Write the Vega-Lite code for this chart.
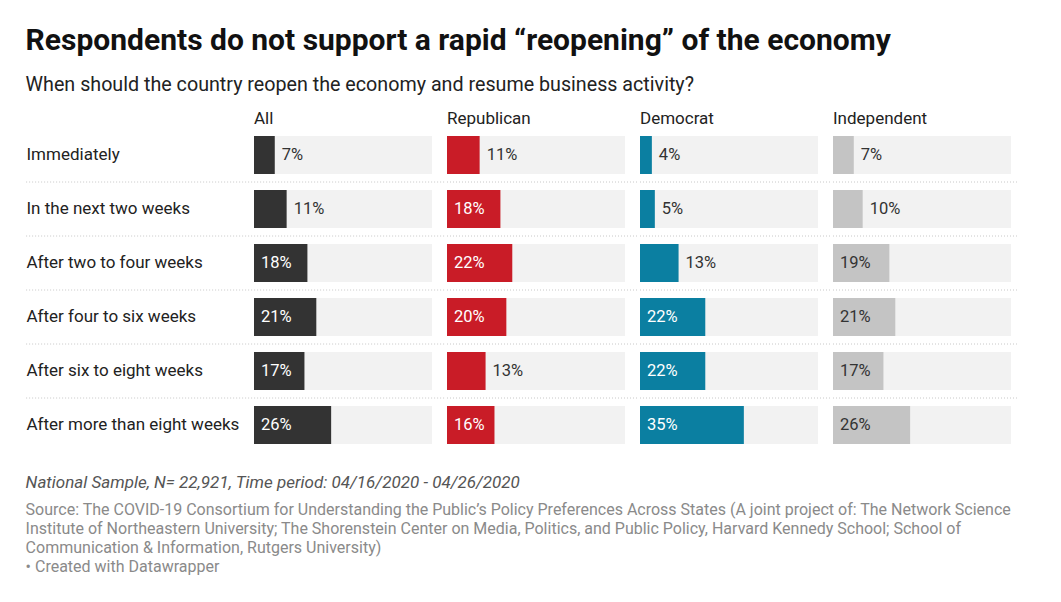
{
  "$schema": "https://vega.github.io/schema/vega-lite/v6.json",
  "background": "white",
  "padding": {"left": 25, "top": 26, "right": 0, "bottom": 0},
  "autosize": {"type": "pad"},
  "config": {"font": "Roboto", "view": {"stroke": null}},
  "datasets": {
    "d": [
      {"answer": "Immediately", "party": "All", "value": 0.07},
      {"answer": "In the next two weeks", "party": "All", "value": 0.11},
      {"answer": "After two to four weeks", "party": "All", "value": 0.18},
      {"answer": "After four to six weeks", "party": "All", "value": 0.21},
      {"answer": "After six to eight weeks", "party": "All", "value": 0.17},
      {"answer": "After more than eight weeks", "party": "All", "value": 0.26},
      {"answer": "Immediately", "party": "Republican", "value": 0.11},
      {"answer": "In the next two weeks", "party": "Republican", "value": 0.18},
      {"answer": "After two to four weeks", "party": "Republican", "value": 0.22},
      {"answer": "After four to six weeks", "party": "Republican", "value": 0.20},
      {"answer": "After six to eight weeks", "party": "Republican", "value": 0.13},
      {"answer": "After more than eight weeks", "party": "Republican", "value": 0.16},
      {"answer": "Immediately", "party": "Democrat", "value": 0.04},
      {"answer": "In the next two weeks", "party": "Democrat", "value": 0.05},
      {"answer": "After two to four weeks", "party": "Democrat", "value": 0.13},
      {"answer": "After four to six weeks", "party": "Democrat", "value": 0.22},
      {"answer": "After six to eight weeks", "party": "Democrat", "value": 0.22},
      {"answer": "After more than eight weeks", "party": "Democrat", "value": 0.35},
      {"answer": "Immediately", "party": "Independent", "value": 0.07},
      {"answer": "In the next two weeks", "party": "Independent", "value": 0.10},
      {"answer": "After two to four weeks", "party": "Independent", "value": 0.19},
      {"answer": "After four to six weeks", "party": "Independent", "value": 0.21},
      {"answer": "After six to eight weeks", "party": "Independent", "value": 0.17},
      {"answer": "After more than eight weeks", "party": "Independent", "value": 0.26}
    ]
  },
  "title": {
    "text": "National Sample, N= 22,921, Time period: 04/16/2020 - 04/26/2020",
    "subtitle": [
      "Source: The COVID-19 Consortium for Understanding the Public’s Policy Preferences Across States (A joint project of: The Network Science",
      "Institute of Northeastern University; The Shorenstein Center on Media, Politics, and Public Policy, Harvard Kennedy School; School of",
      "Communication & Information, Rutgers University)",
      "• Created with Datawrapper"
    ],
    "orient": "bottom",
    "anchor": "start",
    "frame": "bounds",
    "offset": 23,
    "font": "Roboto",
    "fontSize": 17,
    "fontStyle": "italic",
    "fontWeight": "normal",
    "color": "#555555",
    "subtitleFont": "Roboto",
    "subtitleFontSize": 16,
    "subtitleColor": "#8a8a8a",
    "subtitleLineHeight": 19,
    "subtitlePadding": 10
  },
  "vconcat": [
    {
      "title": {
        "text": "Respondents do not support a rapid “reopening” of the economy",
        "subtitle": "When should the country reopen the economy and resume business activity?",
        "anchor": "start",
        "frame": "bounds",
        "offset": 15,
        "font": "Roboto",
        "fontSize": 30,
        "fontWeight": "bold",
        "color": "#111111",
        "subtitleFont": "Roboto",
        "subtitleFontSize": 19.7,
        "subtitleColor": "#222222",
        "subtitlePadding": 19
      },
      "spacing": 0,
      "hconcat": [
        {
          "width": 190.7,
          "height": 324,
          "data": {"name": "d"},
          "transform": [{"filter": "datum.party === 'All'"}],
          "title": {"text": "All", "anchor": "start", "frame": "group", "fontSize": 17, "fontWeight": "normal", "color": "#222222", "offset": 0},
          "encoding": {
            "y": {
              "field": "answer", "type": "nominal",
              "scale": {"domain": ["Immediately", "In the next two weeks", "After two to four weeks", "After four to six weeks", "After six to eight weeks", "After more than eight weeks"], "paddingInner": 0, "paddingOuter": 0},
              "axis": {"title": null, "domain": false, "ticks": false, "labelAlign": "left", "labelPadding": 228, "labelLimit": 400, "labelFontSize": 17, "labelColor": "#222222", "labelFont": "Roboto"}
            }
          },
          "layer": [
            {"mark": {"type": "bar", "color": "#f2f2f2", "height": {"band": 0.7037}}, "encoding": {"x": {"datum": 0.6, "type": "quantitative", "scale": {"domain": [0, 0.6427], "nice": false}, "axis": null}}},
            {"mark": {"type": "bar", "color": "#333333", "height": {"band": 0.7037}}, "encoding": {"x": {"field": "value", "type": "quantitative"}}},
            {"transform": [{"filter": "datum.value >= 0.15"}], "mark": {"type": "text", "align": "left", "dx": 7, "fontSize": 16.5, "color": "#ffffff"}, "encoding": {"x": {"datum": 0}, "text": {"field": "value", "type": "quantitative", "format": ".0%"}}},
            {"transform": [{"filter": "datum.value < 0.15"}], "mark": {"type": "text", "align": "left", "dx": 7, "fontSize": 16.5, "color": "#333333"}, "encoding": {"x": {"field": "value", "type": "quantitative"}, "text": {"field": "value", "type": "quantitative", "format": ".0%"}}},
            {"transform": [{"filter": "datum.answer !== 'After more than eight weeks'"}], "mark": {"type": "rule", "color": "#c8c8c8", "strokeDash": [1, 2], "strokeWidth": 1, "clip": false}, "encoding": {"y": {"field": "answer", "type": "nominal", "bandPosition": 1}, "x": {"datum": -0.768}, "x2": {"datum": 0.6427}}}
          ]
        },
        {
          "width": 190.7,
          "height": 324,
          "data": {"name": "d"},
          "transform": [{"filter": "datum.party === 'Republican'"}],
          "title": {"text": "Republican", "anchor": "start", "frame": "group", "fontSize": 17, "fontWeight": "normal", "color": "#222222", "offset": 0},
          "encoding": {
            "y": {
              "field": "answer", "type": "nominal",
              "scale": {"domain": ["Immediately", "In the next two weeks", "After two to four weeks", "After four to six weeks", "After six to eight weeks", "After more than eight weeks"], "paddingInner": 0, "paddingOuter": 0},
              "axis": null
            }
          },
          "layer": [
            {"mark": {"type": "bar", "color": "#f2f2f2", "height": {"band": 0.7037}}, "encoding": {"x": {"datum": 0.6, "type": "quantitative", "scale": {"domain": [0, 0.6427], "nice": false}, "axis": null}}},
            {"mark": {"type": "bar", "color": "#c91c27", "height": {"band": 0.7037}}, "encoding": {"x": {"field": "value", "type": "quantitative"}}},
            {"transform": [{"filter": "datum.value >= 0.15"}], "mark": {"type": "text", "align": "left", "dx": 7, "fontSize": 16.5, "color": "#ffffff"}, "encoding": {"x": {"datum": 0}, "text": {"field": "value", "type": "quantitative", "format": ".0%"}}},
            {"transform": [{"filter": "datum.value < 0.15"}], "mark": {"type": "text", "align": "left", "dx": 7, "fontSize": 16.5, "color": "#333333"}, "encoding": {"x": {"field": "value", "type": "quantitative"}, "text": {"field": "value", "type": "quantitative", "format": ".0%"}}},
            {"transform": [{"filter": "datum.answer !== 'After more than eight weeks'"}], "mark": {"type": "rule", "color": "#c8c8c8", "strokeDash": [1, 2], "strokeWidth": 1, "clip": false}, "encoding": {"y": {"field": "answer", "type": "nominal", "bandPosition": 1}, "x": {"datum": 0}, "x2": {"datum": 0.6427}}}
          ]
        },
        {
          "width": 190.7,
          "height": 324,
          "data": {"name": "d"},
          "transform": [{"filter": "datum.party === 'Democrat'"}],
          "title": {"text": "Democrat", "anchor": "start", "frame": "group", "fontSize": 17, "fontWeight": "normal", "color": "#222222", "offset": 0},
          "encoding": {
            "y": {
              "field": "answer", "type": "nominal",
              "scale": {"domain": ["Immediately", "In the next two weeks", "After two to four weeks", "After four to six weeks", "After six to eight weeks", "After more than eight weeks"], "paddingInner": 0, "paddingOuter": 0},
              "axis": null
            }
          },
          "layer": [
            {"mark": {"type": "bar", "color": "#f2f2f2", "height": {"band": 0.7037}}, "encoding": {"x": {"datum": 0.6, "type": "quantitative", "scale": {"domain": [0, 0.6427], "nice": false}, "axis": null}}},
            {"mark": {"type": "bar", "color": "#0b7fa1", "height": {"band": 0.7037}}, "encoding": {"x": {"field": "value", "type": "quantitative"}}},
            {"transform": [{"filter": "datum.value >= 0.15"}], "mark": {"type": "text", "align": "left", "dx": 7, "fontSize": 16.5, "color": "#ffffff"}, "encoding": {"x": {"datum": 0}, "text": {"field": "value", "type": "quantitative", "format": ".0%"}}},
            {"transform": [{"filter": "datum.value < 0.15"}], "mark": {"type": "text", "align": "left", "dx": 7, "fontSize": 16.5, "color": "#333333"}, "encoding": {"x": {"field": "value", "type": "quantitative"}, "text": {"field": "value", "type": "quantitative", "format": ".0%"}}},
            {"transform": [{"filter": "datum.answer !== 'After more than eight weeks'"}], "mark": {"type": "rule", "color": "#c8c8c8", "strokeDash": [1, 2], "strokeWidth": 1, "clip": false}, "encoding": {"y": {"field": "answer", "type": "nominal", "bandPosition": 1}, "x": {"datum": 0}, "x2": {"datum": 0.6427}}}
          ]
        },
        {
          "width": 190.7,
          "height": 324,
          "data": {"name": "d"},
          "transform": [{"filter": "datum.party === 'Independent'"}],
          "title": {"text": "Independent", "anchor": "start", "frame": "group", "fontSize": 17, "fontWeight": "normal", "color": "#222222", "offset": 0},
          "encoding": {
            "y": {
              "field": "answer", "type": "nominal",
              "scale": {"domain": ["Immediately", "In the next two weeks", "After two to four weeks", "After four to six weeks", "After six to eight weeks", "After more than eight weeks"], "paddingInner": 0, "paddingOuter": 0},
              "axis": null
            }
          },
          "layer": [
            {"mark": {"type": "bar", "color": "#f2f2f2", "height": {"band": 0.7037}}, "encoding": {"x": {"datum": 0.6, "type": "quantitative", "scale": {"domain": [0, 0.6427], "nice": false}, "axis": null}}},
            {"mark": {"type": "bar", "color": "#c4c4c4", "height": {"band": 0.7037}}, "encoding": {"x": {"field": "value", "type": "quantitative"}}},
            {"transform": [{"filter": "datum.value >= 0.15"}], "mark": {"type": "text", "align": "left", "dx": 7, "fontSize": 16.5, "color": "#333333"}, "encoding": {"x": {"datum": 0}, "text": {"field": "value", "type": "quantitative", "format": ".0%"}}},
            {"transform": [{"filter": "datum.value < 0.15"}], "mark": {"type": "text", "align": "left", "dx": 7, "fontSize": 16.5, "color": "#333333"}, "encoding": {"x": {"field": "value", "type": "quantitative"}, "text": {"field": "value", "type": "quantitative", "format": ".0%"}}},
            {"transform": [{"filter": "datum.answer !== 'After more than eight weeks'"}], "mark": {"type": "rule", "color": "#c8c8c8", "strokeDash": [1, 2], "strokeWidth": 1, "clip": false}, "encoding": {"y": {"field": "answer", "type": "nominal", "bandPosition": 1}, "x": {"datum": 0}, "x2": {"datum": 0.62}}}
          ]
        }
      ]
    }
  ]
}
